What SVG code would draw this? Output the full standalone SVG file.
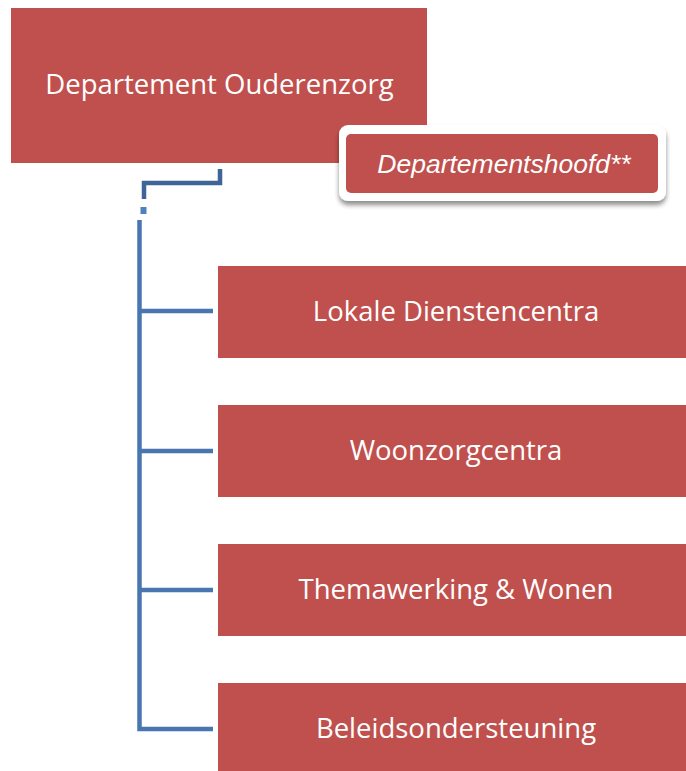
<svg xmlns="http://www.w3.org/2000/svg" width="686" height="771" viewBox="0 0 686 771">
  <defs>
    <filter id="shadow" x="-10%" y="-30%" width="120%" height="170%">
      <feGaussianBlur in="SourceAlpha" stdDeviation="2.5"/>
      <feOffset dx="0" dy="4" result="b"/>
      <feComponentTransfer><feFuncA type="linear" slope="0.45"/></feComponentTransfer>
      <feMerge><feMergeNode/><feMergeNode in="SourceGraphic"/></feMerge>
    </filter>
  </defs>
  <style>
    .box { fill: #C0504D; }
    .lbl { font-family: "Open Sans", "Noto Sans", sans-serif; fill: #FFFFFF; text-anchor: middle; font-size: 27.5px; }
    .conn { fill: none; stroke: #4A76B0; stroke-width: 4.5; }
    .dark { stroke: #3F6497; }
  </style>
  <rect width="686" height="771" fill="#FFFFFF"/>

  <g id="connectors">
    <path class="conn dark" d="M220 169 V183 H144 V199"/>
    <rect x="140.5" y="207" width="6" height="7" fill="#4F81BD"/>
    <path class="conn" d="M139.5 220 V729 H213"/>
    <path class="conn" d="M139.5 311 H213"/>
    <path class="conn" d="M139.5 451 H213"/>
    <path class="conn" d="M139.5 590 H213"/>
  </g>

  <g id="n-dept">
    <rect class="box" x="11" y="8" width="416" height="155"/>
    <text class="lbl" x="219.5" y="94">Departement Ouderenzorg</text>
  </g>

  <g id="n-hoofd">
    <rect x="339" y="125" width="327" height="76" rx="9" fill="#FFFFFF" filter="url(#shadow)"/>
    <rect class="box" x="346" y="134" width="312" height="59" rx="5"/>
    <text x="504" y="172.5" font-family="Liberation Sans, Arial, sans-serif" font-style="italic" font-size="26.5" fill="#FFFFFF" text-anchor="middle">Departementshoofd**</text>
  </g>

  <g id="n-ldc">
    <rect class="box" x="218" y="266" width="468" height="92"/>
    <text class="lbl" x="456" y="321">Lokale Dienstencentra</text>
  </g>

  <g id="n-wzc">
    <rect class="box" x="218" y="405" width="468" height="92"/>
    <text class="lbl" x="456" y="460">Woonzorgcentra</text>
  </g>

  <g id="n-thema">
    <rect class="box" x="218" y="544" width="468" height="92"/>
    <text class="lbl" x="456" y="599">Themawerking &amp; Wonen</text>
  </g>

  <g id="n-beleid">
    <rect class="box" x="218" y="683" width="468" height="92"/>
    <text class="lbl" x="456" y="738">Beleidsondersteuning</text>
  </g>
</svg>
